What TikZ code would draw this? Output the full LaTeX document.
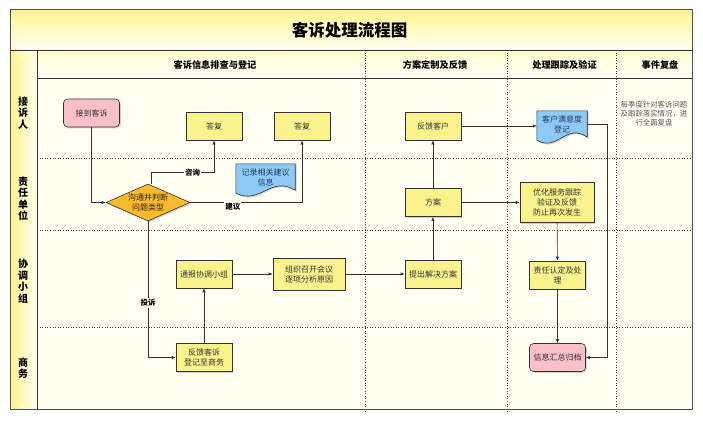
\documentclass[tikz,border=0pt]{standalone}
\usepackage{fontspec}
\setmainfont{Noto Sans CJK SC}
\usetikzlibrary{arrows.meta, positioning, calc, shapes.geometric, shadows, backgrounds}
\pgfdeclarelayer{docs}
\pgfsetlayers{background,docs,main}

\definecolor{laneBg}{HTML}{FFFFF2}
\definecolor{bandYel}{HTML}{FFF48E}
\definecolor{boxYel}{HTML}{FAF38C}
\definecolor{boxPink}{HTML}{F9C0C8}
\definecolor{diaOrg}{HTML}{F9BA2E}
\definecolor{docBlue}{HTML}{8DCBF6}
\definecolor{lineDk}{HTML}{333333}
\definecolor{docTxt}{HTML}{1F3A66}
\definecolor{frameGr}{HTML}{505050}

\begin{document}
\begin{tikzpicture}[x=1pt, y=-1pt, >={Latex[length=4pt,width=3.4pt]},
  font=\fontsize{8}{10}\selectfont,
  boxshadow/.style={drop shadow={shadow xshift=1.3pt, shadow yshift=-1.3pt, opacity=0.35}},
  box/.style={draw=lineDk, line width=0.6pt, fill=boxYel, minimum width=56pt,
    minimum height=28pt, inner sep=1pt, align=center, text=black!80, boxshadow},
  endbox/.style={box, fill=boxPink, rounded corners=4pt},
  judge/.style={diamond, draw=lineDk, line width=0.6pt, fill=diaOrg, aspect=2.27,
    inner sep=0pt, minimum width=84pt, minimum height=37pt, align=center,
    text=black!75!brown, boxshadow},
  doc/.style={inner sep=0pt, align=center, text=docTxt},
  docline/.style={draw=lineDk, line width=0.6pt, fill=docBlue, boxshadow},
  flow/.style={->, draw=lineDk, line width=0.6pt},
  lbl/.style={fill=laneBg, inner sep=1pt, font=\fontsize{7.5}{9}\selectfont\bfseries},
  lanetxt/.style={align=center, font=\fontsize{10}{11.5}\selectfont\bfseries},
  headtxt/.style={font=\fontsize{9.2}{11}\selectfont\bfseries},
  divider/.style={dotted, line width=0.6pt, black!75}]
  \useasboundingbox (0,0) rectangle (703,420);

  % Swimlanes
  \begin{scope}[on background layer]
    \fill[laneBg] (10,50) rectangle (692,409);
    \shade[top color=bandYel, bottom color=yellow!4] (10,10) rectangle (692,50);
    \shade[top color=yellow!18, bottom color=yellow!3] (37,50) rectangle (692,78);
    \shade[left color=bandYel, right color=yellow!6] (10,50) rectangle (37,409);
    \foreach \y in {158,230,327}
      \draw[divider] (37,\y) -- (692,\y);
    \foreach \x in {365,507,616}
      \draw[divider] (\x,50) -- (\x,412);
    \draw[lineDk, line width=0.8pt] (10,50) -- (692,50) (37,78) -- (692,78) (37,50) -- (37,409);
    \draw[frameGr, line width=1pt] (10,10) rectangle (692,409);
  \end{scope}

  % Title and column heads
  \node[font=\fontsize{16.5}{18}\selectfont\bfseries] (title) at (349.5,30) {客诉处理流程图};
  \node[headtxt] (head1) at (215,64.5) {客诉信息排查与登记};
  \node[headtxt] (head2) at (435,64.5) {方案定制及反馈};
  \node[headtxt] (head3) at (564.5,64.5) {处理跟踪及验证};
  \node[headtxt] (head4) at (660,64.5) {事件复盘};

  % Lane names
  \node[lanetxt] (lane1) at (23,113) {接\\诉\\人};
  \node[lanetxt] (lane2) at (23,198.5) {责\\任\\单\\位};
  \node[lanetxt] (lane3) at (23,281) {协\\调\\小\\组};
  \node[lanetxt] (lane4) at (23,368) {商\\务};

  % Steps
  \node[endbox] (recv) at (91.5,113) {接到客诉};
  \node[box] (ans1) at (214,126) {答复};
  \node[box] (ans2) at (302,126) {答复};
  \node[judge] (dia) at (148,202.5) {沟通并判断\\问题类型};
  \node[doc, minimum width=59pt, minimum height=26pt] (note1) at (265.5,177) {记录相关建议\\信息};
  \node[box] (fbc) at (433,126) {反馈客户};
  \node[doc, minimum width=50pt, minimum height=26pt] (sat) at (562,124) {客户满意度\\登记};
  \node[box] (plan) at (433,202.5) {方案};
  \node[box, minimum width=74pt, minimum height=40pt] (opt) at (557,202.5) {优化服务跟踪\\验证及反馈\\防止再次发生};
  \node[box] (notify) at (204,274) {通报协调小组};
  \node[box, minimum width=72pt, minimum height=32pt] (meet) at (309,274) {组织召开会议\\逐项分析原因};
  \node[box] (solve) at (433,274) {提出解决方案};
  \node[box] (duty) at (557.5,275) {责任认定及处\\理};
  \node[box] (reg) at (204,357.5) {反馈客诉\\登记至商务};
  \node[endbox] (arch) at (557.5,357.5) {信息汇总归档};
  \node[align=center, text=black!65, font=\fontsize{7.4}{9}\selectfont] (review) at (654,114)
    {每季度针对客诉问题\\及跟踪落实情况，进\\行全面复盘};

  % Wavy document outlines
  \begin{pgfonlayer}{docs}
    \foreach \docname in {note1,sat}
      \draw[docline] (\docname.north west) -- (\docname.north east) -- (\docname.south east)
        .. controls ($(\docname.south east)!0.42!(\docname.south west)+(0,-15)$)
        and ($(\docname.south east)!0.58!(\docname.south west)+(0,15)$)
        .. ([yshift=-3pt]\docname.south west) -- cycle;
  \end{pgfonlayer}

  % Flow
  \draw[flow] (recv) |- (dia);
  \draw[flow] ([xshift=3pt]dia.north) -- ++(0,-11) -| (ans1) node[lbl, pos=0.33] {咨询};
  \draw[flow] (dia) -| (ans2) node[lbl, pos=0.19, yshift=-4pt] {建议};
  \draw[flow] (dia) |- (reg) node[lbl, pos=0.3] {投诉};
  \draw[flow] (reg) -- (notify);
  \draw[flow] (notify) -- (meet);
  \draw[flow] (meet) -- (solve);
  \draw[flow] (solve) -- (plan);
  \draw[flow] (plan) -- (fbc);
  \draw[flow] (fbc.east) -- (fbc.east -| sat.west);
  \draw[flow] (plan) -- (opt);
  \draw[flow] (opt) -- (duty);
  \draw[flow] (duty) -- (arch);
  \draw[flow] (sat.east) -- ++(20,0) |- (arch);
\end{tikzpicture}
\end{document}
